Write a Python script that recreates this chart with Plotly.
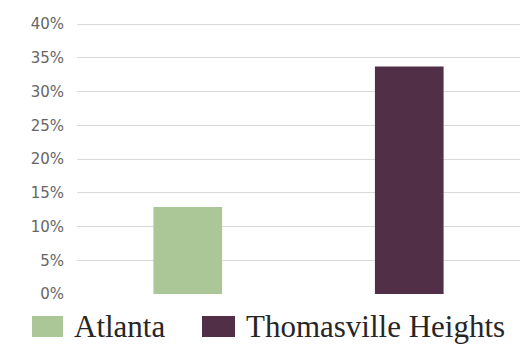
import plotly.graph_objects as go

# Share of residents, by place
places = ["Atlanta", "Thomasville Heights"]
shares = [12.9, 33.7]
bar_colors = ["#ABC797", "#512F47"]
y_ticks = [0, 5, 10, 15, 20, 25, 30, 35, 40]
y_tick_text = [f"{v}%" for v in y_ticks]

W, H = 520, 344
M_L, M_R, M_T, M_B = 77, 0, 23, 50
PLOT_W = W - M_L - M_R
PLOT_H = H - M_T - M_B
Y_MAX = 40.15  # a little headroom so the 40% gridline is drawn


def px_x(px):
    """Pixel column -> paper x."""
    return (px - M_L) / PLOT_W


def px_y(py):
    """Pixel row -> paper y."""
    return (H - M_B - py) / PLOT_H


fig = go.Figure(
    go.Bar(
        x=places,
        y=shares,
        marker=dict(color=bar_colors, line=dict(width=0)),
        showlegend=False,
        hoverinfo="x+y",
    )
)

# Legend drawn by hand: large swatches with serif labels under the plot
legend_items = [
    # (swatch left, swatch right, label left)
    (32, 63, 72),
    (202, 235, 244),
]
shapes = []
annotations = []
for name, color, (s0, s1, tx) in zip(places, bar_colors, legend_items):
    shapes.append(dict(
        type="rect", xref="paper", yref="paper",
        x0=px_x(s0), x1=px_x(s1), y0=px_y(337), y1=px_y(316),
        fillcolor=color, line=dict(width=0),
    ))
    annotations.append(dict(
        text=name, xref="paper", yref="paper",
        x=px_x(tx), y=px_y(326), xanchor="left", yanchor="middle",
        showarrow=False,
        font=dict(family="Liberation Serif", size=31, color="#262626"),
    ))

fig.update_layout(
    width=W, height=H,
    margin=dict(l=M_L, r=M_R, t=M_T, b=M_B, pad=0),
    paper_bgcolor="white",
    plot_bgcolor="white",
    bargap=0.69,
    shapes=shapes,
    annotations=annotations,
    xaxis=dict(
        showticklabels=False, showgrid=False, zeroline=False,
        showline=False, ticks="",
    ),
    yaxis=dict(
        range=[0, Y_MAX],
        tickvals=y_ticks,
        ticktext=y_tick_text,
        showgrid=True, gridcolor="#D9D9D9", gridwidth=1,
        zeroline=False, showline=False, ticks="",
        ticklabelstandoff=12,
        tickfont=dict(family="DejaVu Sans", size=15, color="#666666"),
    ),
)

fig.write_html("out.html")
